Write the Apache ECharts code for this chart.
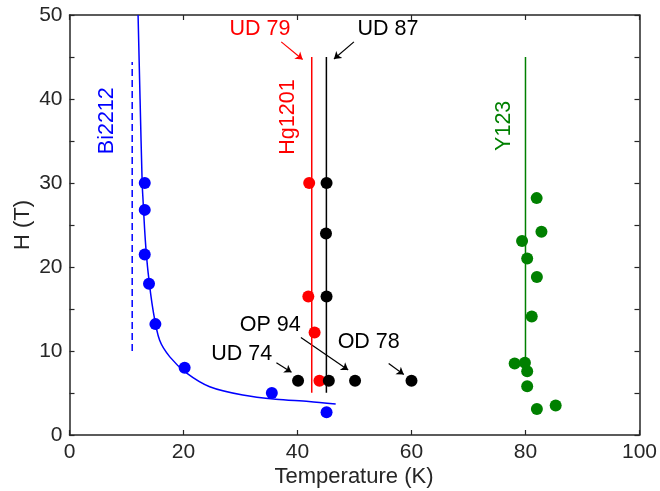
<!DOCTYPE html>
<html><head><meta charset="utf-8">
<script src="https://cdn.jsdelivr.net/npm/echarts@6/dist/echarts.min.js"></script>
<style>html,body{margin:0;padding:0;background:#fff}#c{width:660px;height:491px}</style>
</head><body><div id="c"></div>
<script>
// ---- data (Temperature K, H T) ----
const biT = [13.2, 13.2, 13.2, 13.95, 15.07, 20.2, 35.5, 45.1];
const biH = [30, 26.8, 21.5, 18.0, 13.2, 8.0, 5.0, 2.7];
const biFitT = [12.03, 12.38, 12.75, 12.9, 13.3, 13.8, 14.65, 15.8, 17.6, 20.5, 24.6, 30.4, 36.2, 42.0, 46.7];
const biFitH = [50, 40, 30, 28, 23.2, 19.3, 14.9, 11.3, 9.3, 7.4, 5.75, 4.76, 4.25, 4.0, 3.69];
const biDashT = [11, 11];
const biDashH = [10, 44.4];

const hgT = [42.05, 41.9, 43.0, 43.85];
const hgH = [30, 16.5, 12.2, 6.46];
const hgLineT = [42.5, 42.5];
const hgLineH = [5.04, 45];

const blackT = [45.1, 45.0, 45.1, 40.1, 45.5, 50.1, 60.0];
const blackH = [30, 24.0, 16.5, 6.46, 6.46, 6.46, 6.46];
const blackLineT = [45.07, 45.07];
const blackLineH = [5.04, 45];

const yT = [81.96, 82.8, 79.4, 80.3, 82.0, 81.1, 78.1, 79.9, 80.3, 80.3, 82.0, 85.3];
const yH = [28.2, 24.2, 23.1, 21.0, 18.8, 14.1, 8.5, 8.6, 7.6, 5.8, 3.1, 3.5];
const yLineT = [80, 80];
const yLineH = [8.6, 45];

// arrows: [fromT, fromH, toT, toH]
const arrowUD79 = [37.15, 46.8, 40.9, 44.7];
const arrowUD87 = [49.9, 46.8, 46.4, 44.76];
const arrowUD74 = [36.3, 8.6, 38.95, 7.46];
const arrowOP94 = [40.6, 11.6, 48.9, 7.74];
const arrowOD78 = [56.0, 8.5, 58.65, 7.2];

const xTicks = [0, 20, 40, 60, 80, 100];
const yTicks = [0, 10, 20, 30, 40, 50];

const zip = (a, b) => a.map((v, i) => [v, b[i]]);
const arr = a => ({coords: [[a[0], a[1]], [a[2], a[3]]]});

const FONT = 'Liberation Sans, Arial, Helvetica, sans-serif';
const AX = '#262626';

const chart = echarts.init(document.getElementById('c'), null, {renderer: 'canvas'});
const axisCommon = {
  type: 'value',
  axisLine: {show: true, onZero: false, lineStyle: {color: AX, width: 1.5}},
  axisTick: {show: true, inside: true, length: 5, lineStyle: {color: AX, width: 1.2}},
  splitLine: {show: false}
};
function txt(t, x, y, color, rot, size) {
  return {type: 'text', x: x, y: y, rotation: rot || 0, z: 100,
    style: {text: t, fill: color, font: (size || 21.5) + 'px ' + FONT, textAlign: 'center', textVerticalAlign: 'middle'}};
}
chart.setOption({
  animation: false,
  backgroundColor: '#fff',
  grid: {left: 69.5, right: 18.3, top: 15, bottom: 56},
  xAxis: [
    Object.assign({}, axisCommon, {min: xTicks[0], max: xTicks[xTicks.length - 1], interval: 20, position: 'bottom',
      axisLabel: {show: true, margin: 7, color: AX, fontSize: 21, fontFamily: FONT}}),
    Object.assign({}, axisCommon, {min: xTicks[0], max: xTicks[xTicks.length - 1], interval: 20, position: 'top',
      axisLabel: {show: false}})
  ],
  yAxis: [
    Object.assign({}, axisCommon, {min: yTicks[0], max: yTicks[yTicks.length - 1], interval: 5, position: 'left',
      axisLabel: {show: true, margin: 7, color: AX, fontSize: 21, fontFamily: FONT,
        formatter: v => (yTicks.indexOf(v) >= 0 ? String(v) : '')}}),
    Object.assign({}, axisCommon, {min: yTicks[0], max: yTicks[yTicks.length - 1], interval: 5, position: 'right',
      axisLabel: {show: false}})
  ],
  series: [
    {type: 'line', data: zip(biDashT, biDashH), symbol: 'none', lineStyle: {color: '#0000ff', width: 1.5, type: [7, 4]}},
    {type: 'line', data: zip(biFitT, biFitH), symbol: 'none', smooth: 0.3, lineStyle: {color: '#0000ff', width: 1.5}},
    {type: 'scatter', data: zip(biT, biH), symbolSize: 12, itemStyle: {color: '#0000ff', opacity: 1}},
    {type: 'line', data: zip(hgLineT, hgLineH), symbol: 'none', lineStyle: {color: '#ff0000', width: 1.5}},
    {type: 'scatter', data: zip(hgT, hgH), symbolSize: 12, itemStyle: {color: '#ff0000', opacity: 1}},
    {type: 'line', data: zip(blackLineT, blackLineH), symbol: 'none', lineStyle: {color: '#000000', width: 1.5}},
    {type: 'scatter', data: zip(blackT, blackH), symbolSize: 12, itemStyle: {color: '#000000', opacity: 1}},
    {type: 'line', data: zip(yLineT, yLineH), symbol: 'none', lineStyle: {color: '#008000', width: 1.5}},
    {type: 'scatter', data: zip(yT, yH), symbolSize: 12, itemStyle: {color: '#008000', opacity: 1}},
    {type: 'lines', coordinateSystem: 'cartesian2d', symbol: ['none', 'arrow'], symbolSize: 7,
      lineStyle: {color: '#ff0000', width: 1.2, opacity: 1}, data: [arr(arrowUD79)]},
    {type: 'lines', coordinateSystem: 'cartesian2d', symbol: ['none', 'arrow'], symbolSize: 7,
      lineStyle: {color: '#000000', width: 1.2, opacity: 1},
      data: [arr(arrowUD87), arr(arrowUD74), arr(arrowOP94), arr(arrowOD78)]}
  ],
  graphic: [
    txt('Bi2212', 106.7, 120.7, '#0000ff', Math.PI / 2),
    txt('Hg1201', 288.3, 117, '#ff0000', Math.PI / 2),
    txt('Y123', 504.5, 125.8, '#008000', Math.PI / 2),
    txt('UD 79', 260, 29.5, '#ff0000'),
    txt('UD 87', 388, 29.5, '#000000'),
    txt('UD 74', 241.7, 354.5, '#000000'),
    txt('OP 94', 270.3, 325.5, '#000000'),
    txt('OD 78', 368.7, 341.8, '#000000'),
    txt('Temperature (K)', 354, 476.8, AX, 0, 22),
    txt('H (T)', 22.5, 225, AX, Math.PI / 2, 22)
  ]
});
</script></body></html>
